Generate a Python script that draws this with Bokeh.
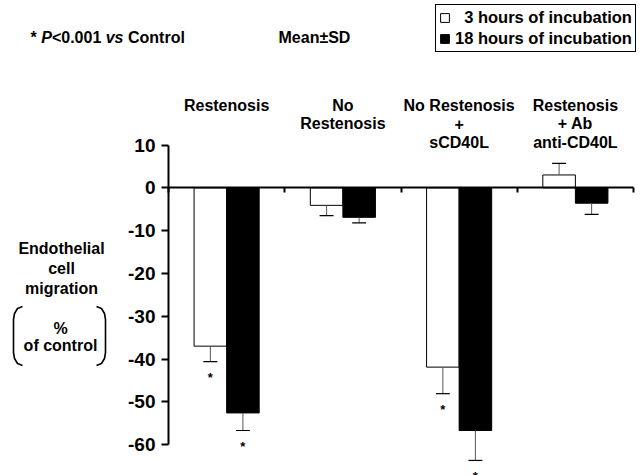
import numpy as np
from bokeh.plotting import figure
from bokeh.models import (ColumnDataSource, Range1d, LinearAxis, FixedTicker, Label, LabelSet,
                          Legend, LegendItem, PolyAnnotation)
from bokeh.core.properties import value
from bokeh.embed import file_html
from bokeh.resources import INLINE

# ---------------- data ----------------
categories = ["Restenosis", "No\nRestenosis", "No Restenosis\n+\nsCD40L", "Restenosis\n+ Ab\nanti-CD40L"]
mean_3h = [-37.0, -4.1, -41.9, 3.0]
sd_3h = [3.6, 2.4, 6.2, 2.7]
mean_18h = [-52.6, -6.9, -56.7, -3.6]
sd_18h = [4.1, 1.3, 7.0, 2.6]
signif_3h = [True, False, True, False]
signif_18h = [True, False, True, False]
y_ticks = [-60, -50, -40, -30, -20, -10, 0, 10]
series_labels = ["\u20073 hours of incubation", "18 hours of incubation"]
y_title_lines = ["Endothelial", "cell", "migration"]
y_unit_lines = ["%", "of control"]

# ---------------- layout helpers ----------------
W, H = 644, 475
AXIS_PX = 168          # pixel column of the y axis (x = 0)
PX_PER_CAT = 116.25
ZERO_PX = 187.3        # pixel row of y = 0
PX_PER_UNIT = 4.28


def dx(px):
    return (px - AXIS_PX) / PX_PER_CAT


def dy(py):
    return (ZERO_PX - py) / PX_PER_UNIT


FONT = "Liberation Sans"
INK = "black"

p = figure(width=W, height=H,
           x_range=Range1d(dx(0), dx(W)), y_range=Range1d(dy(H), dy(0)),
           x_axis_type=None, y_axis_type=None, output_backend="svg", toolbar_location=None,
           min_border_left=0, min_border_right=0, min_border_top=0, min_border_bottom=0)
p.outline_line_color = None
p.background_fill_color = "white"
p.border_fill_color = "white"

# ---------------- bars ----------------
n = len(categories)
centers = np.arange(n) + 0.5
OFF, BW, CAP = 0.14, 0.28, 0.06


def series_source(means, sds, offset):
    means = np.array(means)
    sds = np.array(sds)
    tips = means + np.sign(means) * sds
    x = centers + offset
    return ColumnDataSource(dict(x=x, top=means, tip=tips, x0=x - CAP, x1=x + CAP))


src3 = series_source(mean_3h, sd_3h, -OFF)
src18 = series_source(mean_18h, sd_18h, OFF)

r3 = p.vbar(x="x", top="top", bottom=0, width=BW, source=src3,
            fill_color="white", line_color=INK, line_width=1)
r18 = p.vbar(x="x", top="top", bottom=0, width=BW, source=src18,
             fill_color=INK, line_color=INK, line_width=1)

for src in (src3, src18):
    p.segment(x0="x", y0="top", x1="x", y1="tip", source=src, line_color="#555555", line_width=1)
    p.segment(x0="x0", y0="tip", x1="x1", y1="tip", source=src, line_color=INK, line_width=1.2)

# significance stars
star_x, star_y = [], []
for src, sig in ((src3, signif_3h), (src18, signif_18h)):
    for xi, ti, s in zip(src.data["x"], src.data["tip"], sig):
        if s:
            star_x.append(xi)
            star_y.append(ti - 2.0)
stars = ColumnDataSource(dict(x=star_x, y=star_y, t=["*"] * len(star_x)))
p.add_layout(LabelSet(x="x", y="y", text="t", source=stars, text_align="center",
                      text_baseline="top", text_font=value(FONT), text_font_style="bold",
                      text_font_size="13px", text_color=INK))

# ---------------- axes ----------------
yaxis = LinearAxis(fixed_location=0, ticker=FixedTicker(ticks=y_ticks),
                   bounds=(min(y_ticks), max(y_ticks)),
                   major_tick_out=7, major_tick_in=0, minor_tick_out=0, minor_tick_in=0,
                   axis_line_width=2, major_tick_line_width=2,
                   axis_line_color=INK, major_tick_line_color=INK,
                   major_label_text_font=FONT, major_label_text_font_size="19px",
                   major_label_text_font_style="bold", major_label_standoff=6,
                   major_label_text_color=INK,
                   major_label_overrides={t: str(t) for t in y_ticks})
p.add_layout(yaxis, "left")

x_bounds = list(range(n + 1))
xaxis = LinearAxis(fixed_location=0, ticker=FixedTicker(ticks=x_bounds), bounds=(0, n),
                   major_tick_out=5, major_tick_in=0, minor_tick_out=0, minor_tick_in=0,
                   axis_line_width=2, major_tick_line_width=2,
                   axis_line_color=INK, major_tick_line_color=INK,
                   major_label_overrides={t: "" for t in x_bounds}, major_label_standoff=0)
p.add_layout(xaxis, "below")

# ---------------- category headers ----------------
hx, hy, ht = [], [], []
for i, cat in enumerate(categories):
    for j, line in enumerate(cat.split("\n")):
        hx.append(centers[i])
        hy.append(dy(105 + 18.3 * j))
        ht.append(line)
p.text(x=hx, y=hy, text=ht, text_align="center", text_baseline="alphabetic",
       text_font=value(FONT), text_font_style="bold", text_font_size="16px", text_color=INK)

# ---------------- y title ----------------
for j, line in enumerate(y_title_lines):
    p.add_layout(Label(x=dx(61), y=dy(248 + 20 * j), text=line, text_align="center",
                       text_baseline="alphabetic", text_font=FONT, text_font_style="bold",
                       text_font_size="16px", text_color=INK))
for j, line in enumerate(y_unit_lines):
    p.add_layout(Label(x=dx(60), y=dy(328 + 17 * j), text=line, text_align="center",
                       text_baseline="alphabetic", text_font=FONT, text_font_style="bold",
                       text_font_size="16px", text_color=INK))


# brackets around the unit
def bracket(pts):
    xs = [dx(a) for a, b in pts]
    ys = [dy(b) for a, b in pts]
    xs = xs + xs[-2:0:-1]
    ys = ys + ys[-2:0:-1]
    return PolyAnnotation(xs=xs, ys=ys, fill_color=None, fill_alpha=0,
                          line_color=INK, line_alpha=1.0, line_width=1.6)


left_br = [(22, 306), (17, 308), (14, 313), (13, 319), (13, 352), (14, 358), (17, 363), (22, 365)]
right_br = [(96, 306), (101, 308), (104, 313), (105, 319), (105, 352), (104, 358), (101, 363), (96, 365)]
p.add_layout(bracket(left_br))
p.add_layout(bracket(right_br))

# ---------------- top notes ----------------
note_parts = [("*", "bold", 30), ("P", "bold italic", 40.7), ("<0.001", "bold", 51.4),
              ("vs", "bold italic", 105.2), ("Control", "bold", 127.5), ("Mean±SD", "bold", 278)]
for txt, style, px in note_parts:
    p.add_layout(Label(x=dx(px), y=dy(37), text=txt, text_align="left",
                       text_baseline="alphabetic", text_font=FONT, text_font_style=style,
                       text_font_size="16px", text_color=INK))

# ---------------- legend ----------------
legend = Legend(items=[LegendItem(label=series_labels[0], renderers=[r3]),
                       LegendItem(label=series_labels[1], renderers=[r18])],
                location=(435, H - 52), margin=0, padding=3, spacing=2,
                label_standoff=5, glyph_width=11, glyph_height=11, label_height=18,
                label_text_font=FONT, label_text_font_size="16.5px", label_text_font_style="bold",
                label_text_color=INK,
                border_line_color=INK, border_line_width=1, border_line_alpha=1,
                background_fill_color="white", background_fill_alpha=1)
p.add_layout(legend)

open("out.html", "w").write(file_html(p, INLINE))
